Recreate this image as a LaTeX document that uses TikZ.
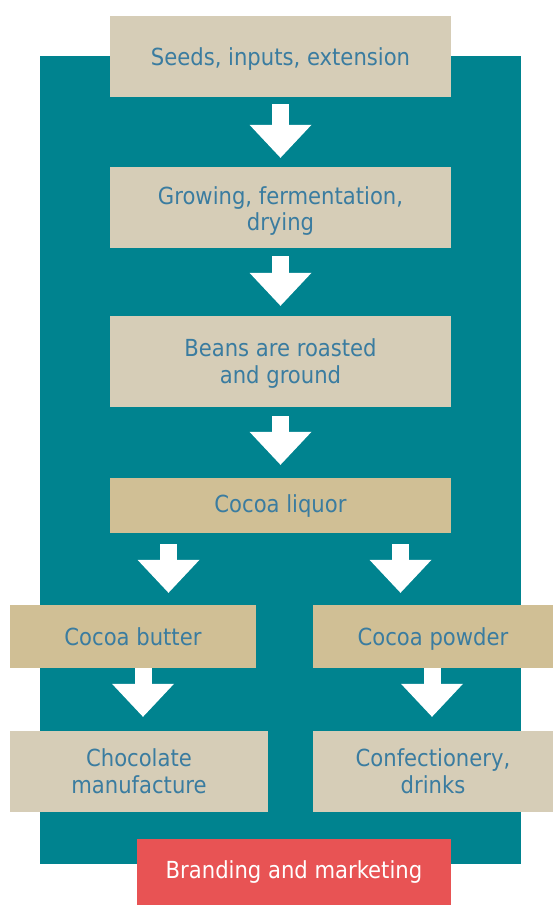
\documentclass[tikz,border=0pt]{standalone}
\usepackage{fontspec}
\setmainfont{DejaVu Sans Condensed}
\usetikzlibrary{arrows.meta,calc}
\definecolor{teal}{HTML}{00838F}
\definecolor{lighttan}{HTML}{D6CDB7}
\definecolor{darktan}{HTML}{D0BF95}
\definecolor{brandred}{HTML}{E85354}
\definecolor{txtblue}{HTML}{3A7CA0}
% #1 = height, #2 = depth given to the text block (baseline of first line)
\newcommand\celltext[3]{\raisebox{0pt}[#1][#2]{\begin{tabular}[t]{@{}c@{}}#3\end{tabular}}}
\tikzset{
  box/.style={fill=lighttan, inner sep=0pt, text=txtblue,
    font=\fontsize{23.5}{26.5}\selectfont},
  darkbox/.style={box, fill=darktan},
  redbox/.style={box, fill=brandred, text=white},
  blockarrow/.style={white, line width=17pt,
    -{Triangle[width=62pt,length=33pt,line width=0pt]}},
}
\begin{document}
\begin{tikzpicture}[x=1pt,y=-1pt]
\useasboundingbox (0,0) rectangle (553,905);
\fill[teal] (40,56) rectangle (521,864);
\node[box, minimum width=341pt, minimum height=81pt] (seeds) at (280.5,56.5) {\celltext{18pt}{0pt}{Seeds, inputs, extension}};
\node[box, minimum width=341pt, minimum height=81pt] (grow) at (280.5,207.5) {\celltext{0pt}{7pt}{Growing, fermentation,\\drying}};
\node[box, minimum width=341pt, minimum height=91pt] (beans) at (280.5,361.5) {\celltext{0pt}{9.6pt}{Beans are roasted\\and ground}};
\node[darkbox, minimum width=341pt, minimum height=55pt] (liquor) at (280.5,505.5) {\celltext{13.6pt}{0pt}{Cocoa liquor}};
\node[darkbox, minimum width=246pt, minimum height=63pt] (butter) at (133,636.5) {\celltext{17pt}{0pt}{Cocoa butter}};
\node[darkbox, minimum width=240pt, minimum height=63pt] (powder) at (433,636.5) {\celltext{17pt}{0pt}{Cocoa powder}};
\node[box, minimum width=258pt, minimum height=81pt] (choc) at (139,771.5) {\celltext{0pt}{9.6pt}{Chocolate\\manufacture}};
\node[box, minimum width=240pt, minimum height=81pt] (conf) at (433,771.5) {\celltext{0pt}{9.6pt}{Confectionery,\\drinks}};
\node[redbox, minimum width=314pt, minimum height=66pt] (brand) at (294,872) {\celltext{12.6pt}{0pt}{Branding and marketing}};
\draw[blockarrow, shorten <=7pt, shorten >=9pt] (seeds.south) -- (grow.north);
\draw[blockarrow, shorten <=8pt, shorten >=10pt] (grow.south) -- (beans.north);
\draw[blockarrow, shorten <=9pt, shorten >=13pt] (beans.south) -- (liquor.north);
\draw[blockarrow, shorten <=11pt, shorten >=12pt] (liquor.south -| 168.5,0) -- (butter.north -| 168.5,0);
\draw[blockarrow, shorten <=11pt, shorten >=12pt] (liquor.south -| 400.5,0) -- (powder.north -| 400.5,0);
\draw[blockarrow, shorten >=14pt] (butter.south -| 143,0) -- (choc.north -| 143,0);
\draw[blockarrow, shorten >=14pt] (powder.south -| 432,0) -- (conf.north -| 432,0);
\end{tikzpicture}
\end{document}
